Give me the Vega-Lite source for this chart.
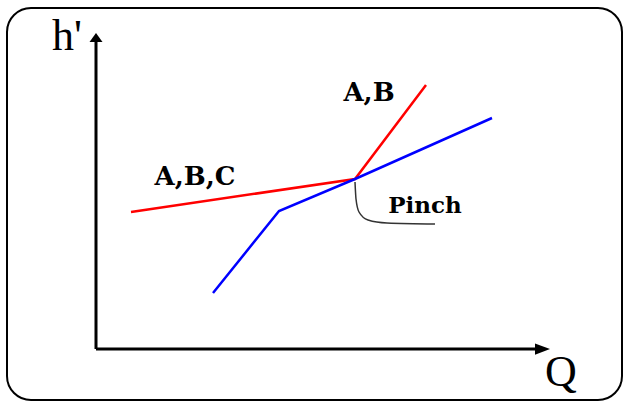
{
  "$schema": "https://vega.github.io/schema/vega-lite/v6.json",
  "width": 623,
  "height": 401,
  "autosize": {"type": "fit", "contains": "padding"},
  "padding": {"left": 7, "top": 8, "right": 1, "bottom": 1},
  "background": "white",
  "config": {
    "view": {"stroke": "black", "strokeWidth": 2, "cornerRadius": 24}
  },
  "datasets": {
    "curves": [
      {"s": "A,B,C / A,B", "o": 1, "Q": 35, "h": 137},
      {"s": "A,B,C / A,B", "o": 2, "Q": 259, "h": 170},
      {"s": "A,B,C / A,B", "o": 3, "Q": 330, "h": 264},
      {"s": "cold", "o": 1, "Q": 117, "h": 56},
      {"s": "cold", "o": 2, "Q": 183, "h": 138},
      {"s": "cold", "o": 3, "Q": 259, "h": 170},
      {"s": "cold", "o": 4, "Q": 396, "h": 231}
    ],
    "pointer": [
      {"o": 1, "Q": 259, "h": 167},
      {"o": 2, "Q": 260, "h": 150},
      {"o": 3, "Q": 263, "h": 137},
      {"o": 4, "Q": 272, "h": 129},
      {"o": 5, "Q": 291, "h": 126},
      {"o": 6, "Q": 339, "h": 125}
    ],
    "axes": [
      {"a": "h'", "Q": 0, "h": 0, "Q2": 0, "h2": 309},
      {"a": "Q", "Q": 0, "h": 0, "Q2": 440, "h2": 0}
    ],
    "labels": [
      {"t": "A,B", "Q": 273, "h": 256},
      {"t": "A,B,C", "Q": 99, "h": 172}
    ],
    "pinch": [
      {"t": "Pinch", "Q": 329, "h": 143}
    ],
    "axisTitles": [
      {"t": "h'", "Q": -29, "h": 312},
      {"t": "Q", "Q": 465, "h": -24}
    ]
  },
  "layer": [
    {
      "data": {"name": "axes"},
      "mark": {"type": "rule", "color": "black", "strokeWidth": 3},
      "encoding": {
        "x": {"field": "Q", "type": "quantitative", "axis": null, "scale": {"domain": [-89, 526], "nice": false, "zero": false}},
        "y": {"field": "h", "type": "quantitative", "axis": null, "scale": {"domain": [-51, 341], "nice": false, "zero": false}},
        "x2": {"field": "Q2"},
        "y2": {"field": "h2"}
      }
    },
    {
      "data": {"values": [{"Q": 0, "h": 311.5}]},
      "mark": {"type": "point", "shape": "M0,-0.7L1,0.7L-1,0.7Z", "size": 169, "filled": true, "color": "black", "opacity": 1, "strokeWidth": 0},
      "encoding": {
        "x": {"field": "Q", "type": "quantitative"},
        "y": {"field": "h", "type": "quantitative"}
      }
    },
    {
      "data": {"values": [{"Q": 446.5, "h": 0}]},
      "mark": {"type": "point", "shape": "M1,0L-1,-0.75L-1,0.75Z", "size": 225, "filled": true, "color": "black", "opacity": 1, "strokeWidth": 0},
      "encoding": {
        "x": {"field": "Q", "type": "quantitative"},
        "y": {"field": "h", "type": "quantitative"}
      }
    },
    {
      "data": {"name": "curves"},
      "mark": {"type": "line", "strokeWidth": 2.5},
      "encoding": {
        "x": {"field": "Q", "type": "quantitative"},
        "y": {"field": "h", "type": "quantitative"},
        "order": {"field": "o"},
        "color": {"field": "s", "type": "nominal", "legend": null, "scale": {"domain": ["A,B,C / A,B", "cold"], "range": ["#ff0000", "#0000ff"]}}
      }
    },
    {
      "data": {"name": "pointer"},
      "mark": {"type": "line", "strokeWidth": 1.5, "color": "#333333", "interpolate": "monotone"},
      "encoding": {
        "x": {"field": "Q", "type": "quantitative"},
        "y": {"field": "h", "type": "quantitative"},
        "order": {"field": "o"}
      }
    },
    {
      "data": {"name": "labels"},
      "mark": {"type": "text", "font": "DejaVu Serif", "fontWeight": "bold", "fontSize": 26, "align": "center", "baseline": "middle", "color": "black"},
      "encoding": {
        "x": {"field": "Q", "type": "quantitative"},
        "y": {"field": "h", "type": "quantitative"},
        "text": {"field": "t"}
      }
    },
    {
      "data": {"name": "pinch"},
      "mark": {"type": "text", "font": "DejaVu Serif", "fontWeight": "bold", "fontSize": 23, "align": "center", "baseline": "middle", "color": "black"},
      "encoding": {
        "x": {"field": "Q", "type": "quantitative"},
        "y": {"field": "h", "type": "quantitative"},
        "text": {"field": "t"}
      }
    },
    {
      "data": {"name": "axisTitles"},
      "mark": {"type": "text", "font": "Liberation Serif", "fontSize": 44, "align": "center", "baseline": "middle", "color": "black"},
      "encoding": {
        "x": {"field": "Q", "type": "quantitative"},
        "y": {"field": "h", "type": "quantitative"},
        "text": {"field": "t"}
      }
    }
  ]
}
